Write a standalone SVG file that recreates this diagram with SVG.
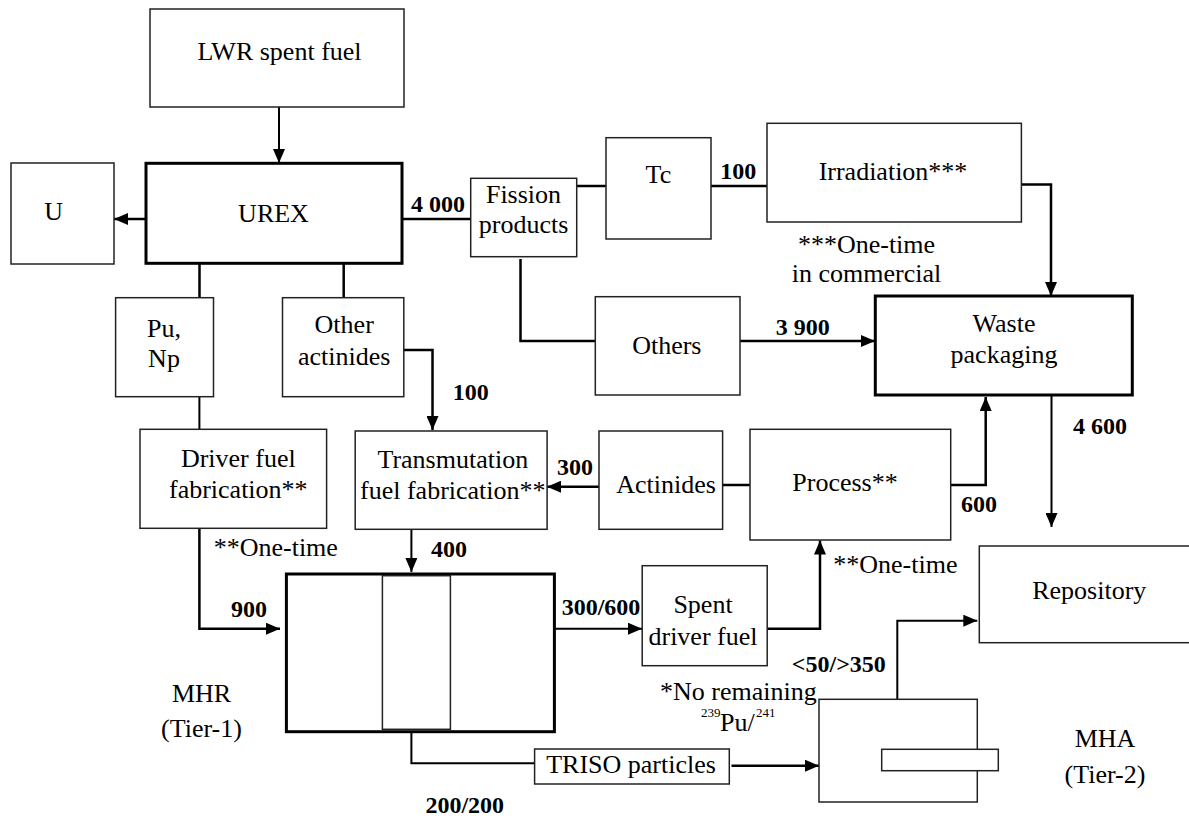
<svg xmlns="http://www.w3.org/2000/svg" width="1189" height="818" viewBox="0 0 1189 818">
<defs>
<marker id="arr" viewBox="0 0 14 12" refX="14" refY="6" markerWidth="14" markerHeight="12" markerUnits="userSpaceOnUse" orient="auto">
<path d="M0,0 L14,6 L0,12 z" fill="#000"/>
</marker>
<style>
.box{fill:#fff;stroke:#222;stroke-width:1.5}
.thick{fill:#fff;stroke:#000;stroke-width:3}
.t{font-family:"Liberation Serif","Times New Roman",Times,serif;font-size:26px;fill:#000;text-anchor:middle}
.ts{font-family:"Liberation Serif","Times New Roman",Times,serif;font-size:26px;fill:#000;text-anchor:start}
.b{font-family:"Liberation Serif","Times New Roman",Times,serif;font-size:24px;font-weight:bold;fill:#000;text-anchor:middle}
.sup{font-size:13px}
.c{fill:none;stroke:#000;stroke-width:2.5}
.cn{fill:none;stroke:#000;stroke-width:2}
.a{marker-end:url(#arr)}
</style>
</defs>
<rect x="0" y="0" width="1189" height="818" fill="#fff"/>

<g id="connectors">
<path class="cn a" d="M279,107 V163"/>
<path class="c a" d="M146,219 H114"/>
<path class="c" d="M402,219 H471"/>
<path class="c" d="M577,186 H606"/>
<path class="c" d="M711,186 H767"/>
<path class="c a" d="M1021,184.5 H1051 V296"/>
<path class="c" d="M520.5,259 V341 H595"/>
<path class="c a" d="M740,341 H875"/>
<path class="cn a" d="M1051.5,396 V527"/>
<path class="c" d="M199.5,264 V298"/>
<path class="c" d="M343.7,264 V298"/>
<path class="c a" d="M404,350 H432.5 V430"/>
<path class="cn" d="M199.4,397 V429"/>
<path class="c a" d="M199.4,528 V628.7 H280"/>
<path class="cn a" d="M411.4,529 V572"/>
<path class="c a" d="M599,486.7 H547"/>
<path class="c" d="M722.6,485 H750"/>
<path class="c a" d="M950.7,485 H985.7 V397"/>
<path class="cn a" d="M554.3,628.7 H642"/>
<path class="c a" d="M767.2,628.7 H820 V540.5"/>
<path class="cn" d="M411.4,729 V763.3 H534.6"/>
<path class="c a" d="M731.5,765.7 H819"/>
<path class="cn a" d="M897.3,699.3 V620.7 H977.3"/>
</g>

<g id="lwr"><rect class="box" x="150" y="9" width="254" height="98"/><text class="t" x="279.5" y="60">LWR spent fuel</text></g>
<g id="u"><rect class="box" x="11" y="163" width="103" height="101"/><text class="t" x="53.6" y="220">U</text></g>
<g id="urex"><rect class="thick" x="146" y="163.3" width="256" height="100"/><text class="t" x="273.5" y="221.7">UREX</text></g>
<g id="fission"><rect class="box" x="470.7" y="178.3" width="106" height="78.4"/><text class="t" x="523.5" y="203">Fission</text><text class="t" x="523.5" y="233">products</text></g>
<g id="tc"><rect class="box" x="606" y="137.7" width="105" height="101.3"/><text class="t" x="658.4" y="183">Tc</text></g>
<g id="irradiation"><rect class="box" x="767" y="123.3" width="254.4" height="98.7"/><text class="t" x="893" y="180">Irradiation***</text></g>
<g id="note-irr"><text class="t" x="866.5" y="252.7">***One-time</text><text class="t" x="866.5" y="281.7">in commercial</text></g>
<g id="others"><rect class="box" x="595.3" y="296.7" width="144.7" height="98.3"/><text class="t" x="666.8" y="354">Others</text></g>
<g id="waste"><rect class="thick" x="875.3" y="296" width="257" height="99"/><text class="t" x="1004" y="332">Waste</text><text class="t" x="1004" y="362.7">packaging</text></g>
<g id="punp"><rect class="box" x="115.6" y="297.7" width="97.9" height="99"/><text class="t" x="164" y="336.7">Pu,</text><text class="t" x="164" y="366.7">Np</text></g>
<g id="otheract"><rect class="box" x="282.5" y="297.7" width="121.3" height="99"/><text class="t" x="344.2" y="333">Other</text><text class="t" x="344.2" y="365">actinides</text></g>
<g id="driver"><rect class="box" x="140" y="429.3" width="186.6" height="99"/><text class="t" x="238.3" y="466.7">Driver fuel</text><text class="t" x="238.3" y="498.3">fabrication**</text></g>
<g id="transmutation"><rect class="box" x="355.2" y="431" width="191.9" height="98.3"/><text class="t" x="452.8" y="468.3">Transmutation</text><text class="t" x="452.8" y="499.3">fuel fabrication**</text></g>
<g id="actinides"><rect class="box" x="599" y="431" width="123.6" height="98.3"/><text class="t" x="666" y="493.3">Actinides</text></g>
<g id="process"><rect class="box" x="750" y="429.3" width="200.7" height="110.7"/><text class="t" x="845" y="490.7">Process**</text></g>
<g id="note-left"><text class="ts" x="213.7" y="556">**One-time</text></g>
<g id="note-right"><text class="ts" x="833.3" y="572.7">**One-time</text></g>
<g id="mhr"><rect class="thick" x="286.4" y="574" width="268" height="157.7"/><rect class="box" x="382.4" y="575.7" width="68" height="153.6"/></g>
<g id="mhr-label"><text class="t" x="201.5" y="701.7">MHR</text><text class="t" x="201.5" y="736.7">(Tier-1)</text></g>
<g id="spent"><rect class="box" x="642.2" y="565.7" width="125" height="100"/><text class="t" x="703" y="613.3">Spent</text><text class="t" x="703" y="645">driver fuel</text></g>
<g id="note-pu"><text class="ts" x="660" y="700">*No remaining</text><text class="ts" y="730.7"><tspan class="sup" x="701" y="716.7">239</tspan><tspan x="720" y="730.7">Pu/</tspan><tspan class="sup" x="756" y="716.7">241</tspan></text></g>
<g id="triso"><rect class="box" x="534.6" y="749" width="194.7" height="35"/><text class="t" x="631" y="773.3">TRISO particles</text></g>
<g id="mha"><rect class="box" x="819" y="699.3" width="158.3" height="102.7"/><rect class="box" x="881.7" y="749.3" width="116.6" height="21.4"/></g>
<g id="mha-label"><text class="t" x="1105" y="746.7">MHA</text><text class="t" x="1105" y="783.3">(Tier-2)</text></g>
<g id="repository"><rect class="box" x="979.3" y="546" width="240" height="96.7"/><text class="t" x="1089.3" y="599">Repository</text></g>

<g id="labels">
<text class="b" x="438" y="211.7">4 000</text>
<text class="b" x="738.3" y="179.3">100</text>
<text class="b" x="802.8" y="335">3 900</text>
<text class="b" x="1100" y="433.5">4 600</text>
<text class="b" x="470.8" y="400">100</text>
<text class="b" x="575" y="475">300</text>
<text class="b" x="979" y="511.7">600</text>
<text class="b" x="449" y="556.7">400</text>
<text class="b" x="249" y="616.7">900</text>
<text class="b" x="601" y="615">300/600</text>
<text class="b" x="838.8" y="671.7">&lt;50/&gt;350</text>
<text class="b" x="464.8" y="813.3">200/200</text>
</g>
</svg>
